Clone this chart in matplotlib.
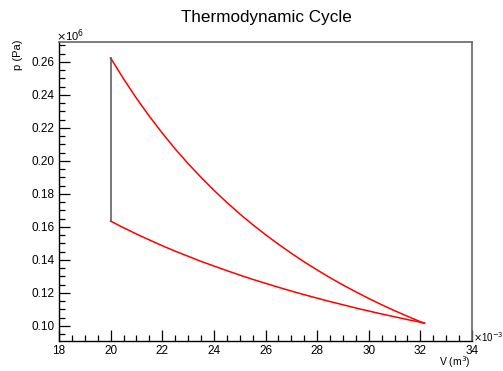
import matplotlib
matplotlib.use("Agg")
import matplotlib.pyplot as plt
from matplotlib.ticker import MultipleLocator, FormatStrFormatter

plt.rcParams['font.family'] = ['Liberation Sans', 'DejaVu Sans']

# Volumes in 1e-3 m^3, pressures in 1e6 Pa
v_upper = [20, 20.5, 21, 21.5, 22, 22.5, 23, 23.5, 24, 24.5, 25, 25.5, 26, 26.5,
           27, 27.5, 28, 28.5, 29, 29.5, 30, 30.5, 31, 31.5, 32, 32.16]
p_upper = [0.2624, 0.2498, 0.2380, 0.2271, 0.2169, 0.2073, 0.1984, 0.1901,
           0.1822, 0.1749, 0.1679, 0.1614, 0.1553, 0.1495, 0.1440, 0.1388,
           0.1339, 0.1292, 0.1248, 0.1206, 0.1166, 0.1128, 0.1092, 0.1058,
           0.1025, 0.1016]
v_lower = [32.16, 32, 31.5, 31, 30.5, 30, 29.5, 29, 28.5, 28, 27.5, 27, 26.5, 26,
           25.5, 25, 24.5, 24, 23.5, 23, 22.5, 22, 21.5, 21, 20.5, 20]
p_lower = [0.1016, 0.1022, 0.1038, 0.1055, 0.1072, 0.1090, 0.1108, 0.1128,
           0.1147, 0.1168, 0.1189, 0.1211, 0.1234, 0.1258, 0.1282, 0.1308,
           0.1335, 0.1363, 0.1391, 0.1422, 0.1453, 0.1486, 0.1521, 0.1557,
           0.1595, 0.1635]
v_iso = [20, 20]
p_iso = [0.1635, 0.2624]

fig = plt.figure(figsize=(5.03, 3.71), dpi=100)
ax = fig.add_axes([0.1173, 0.0817, 0.9384 - 0.1173, 0.8876 - 0.0817])

ax.plot(v_upper, p_upper, color='#ff0000', lw=1.1)
ax.plot(v_lower, p_lower, color='#ff0000', lw=1.1)
ax.plot(v_iso, p_iso, color='#555555', lw=1.1)

ax.set_xlim(18, 34)
ax.set_ylim(0.091, 0.2723)

ax.xaxis.set_major_locator(MultipleLocator(2))
ax.xaxis.set_minor_locator(MultipleLocator(0.5))
ax.yaxis.set_major_locator(MultipleLocator(0.02))
ax.yaxis.set_minor_locator(MultipleLocator(0.005))
ax.xaxis.set_major_formatter(FormatStrFormatter('%d'))
ax.yaxis.set_major_formatter(FormatStrFormatter('%.2f'))

ax.tick_params(which='both', direction='in', top=False, right=False,
               labelsize=8.5, width=0.9, colors='black')
ax.tick_params(which='major', length=8)
ax.tick_params(which='minor', length=4)
ax.tick_params(axis='x', pad=3)
ax.tick_params(axis='y', pad=3)

for s in ['left', 'bottom']:
    ax.spines[s].set_color('black')
    ax.spines[s].set_linewidth(1.0)
for s in ['top', 'right']:
    ax.spines[s].set_color('#666666')
    ax.spines[s].set_linewidth(1.2)

fig.text(0.529, 0.953, 'Thermodynamic Cycle', ha='center', va='center', fontsize=12.3)
fig.text(0.112, 0.905, r'$\times$10$^{6}$', ha='left', va='center', fontsize=8)
fig.text(0.940, 0.0925, r'$\times$10$^{-3}$', ha='left', va='center', fontsize=7)
fig.text(0.936, 0.023, r'V (m$^{3}$)', ha='right', va='center', fontsize=7.5)
fig.text(0.036, 0.893, 'p (Pa)', ha='center', va='top', rotation=90, fontsize=8)

fig.savefig('out.png', dpi=100)
